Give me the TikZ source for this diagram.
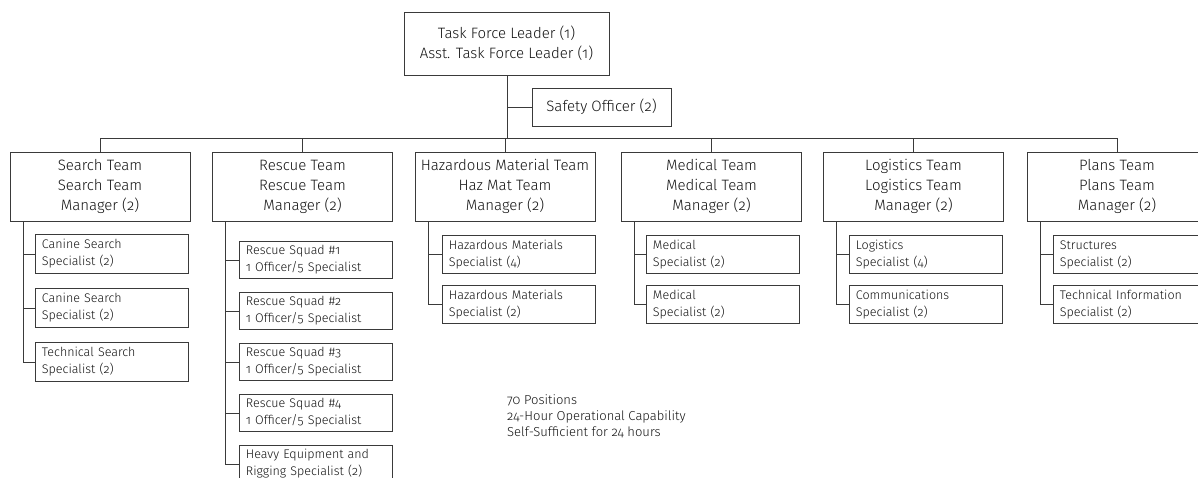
\documentclass[tikz,border=0pt]{standalone}
\usepackage{fontspec}
\setmainfont{Fira Sans Light}[Numbers=OldStyle]
\usepackage{tikz}
\usetikzlibrary{positioning}
\definecolor{linegray}{HTML}{3A3A3A}
\definecolor{txtgray}{HTML}{141414}
\newcommand{\teamfont}{\fontsize{15}{20}\selectfont}
\newcommand{\specfont}{\fontsize{12.5}{17}\selectfont}
\newcommand{\notefont}{\fontsize{13}{16}\selectfont}
\tikzset{
    boxnode/.style = {draw=linegray, fill=white, line width=0.9pt, inner sep=0pt, text=txtgray},
    lead/.style = {boxnode, minimum width=205pt, minimum height=63pt, align=center, font=\teamfont},
    safety/.style = {boxnode, minimum width=139pt, minimum height=38pt, align=center, font=\teamfont},
    team/.style = {boxnode, minimum width=180pt, minimum height=69pt, align=center, font=\teamfont},
    spec/.style = {boxnode, anchor=north west, minimum height=38pt, text width=140pt, inner xsep=6.5pt, align=left, font=\specfont},
    link/.style = {draw=linegray, line width=0.9pt}
}
\begin{document}
\begin{tikzpicture}[x=1pt, y=-1pt]
\useasboundingbox (0,0) rectangle (1198,478);
\clip (0,0) rectangle (1198,478);
% top of the chart
\node [lead] (leader) at (506.5,43.5) {Task Force Leader (1)\\Asst. Task Force Leader (1)};
\node [safety] (safety) at (601.5,107) {Safety Officer (2)};
\coordinate (bus) at (507,138);
\draw [link] (leader.south -| bus) -- (bus);
\draw [link] (safety.west) -- (safety.west -| bus);
% teams
\foreach \name/\x/\txt in {search/100/{Search Team\\Search Team\\Manager (2)},
                           rescue/302.5/{Rescue Team\\Rescue Team\\Manager (2)},
                           hazmat/505/{Hazardous Material Team\\Haz Mat Team\\Manager (2)},
                           medical/711.5/{Medical Team\\Medical Team\\Manager (2)},
                           logistics/913.5/{Logistics Team\\Logistics Team\\Manager (2)},
                           plans/1117/{Plans Team\\Plans Team\\Manager (2)}}{
    \node [team] (\name) at (\x,186.5) {\txt};
    \draw [link] (\name.north) -- (\name.north |- bus);
    \coordinate (\name-trunk) at ([xshift=13.5pt]\name.south west);
}
\draw [link] (search.north |- bus) -- (plans.north |- bus);
% search team
\foreach \i/\txt in {1/{Canine Search\\Specialist (2)}, 2/{Canine Search\\Specialist (2)},
                     3/{Technical Search\\Specialist (2)}}{
    \node [spec, minimum height=39pt] (search-\i) at (35,{234+(\i-1)*54}) {\txt};
    \draw [link] (search-trunk) |- (search-\i.west);
}
% rescue team
\foreach \i/\txt in {1/{Rescue Squad \#1\\1 Officer/5 Specialist}, 2/{Rescue Squad \#2\\1 Officer/5 Specialist},
                     3/{Rescue Squad \#3\\1 Officer/5 Specialist}, 4/{Rescue Squad \#4\\1 Officer/5 Specialist},
                     5/{Heavy Equipment and\\Rigging Specialist (2)}}{
    \node [spec, minimum height=37pt] (rescue-\i) at (239,{241+(\i-1)*51}) {\txt};
    \draw [link] (rescue-trunk) |- (rescue-\i.west);
}
% remaining teams, two specialists each
\foreach \name/\x/\one/\two in {hazmat/442/{Hazardous Materials\\Specialist (4)}/{Hazardous Materials\\Specialist (2)},
                                medical/646/{Medical\\Specialist (2)}/{Medical\\Specialist (2)},
                                logistics/849/{Logistics\\Specialist (4)}/{Communications\\Specialist (2)},
                                plans/1053/{Structures\\Specialist (2)}/{Technical Information\\Specialist (2)}}{
    \node [spec] (\name-1) at (\x,235) {\one};
    \node [spec] (\name-2) at (\x,285) {\two};
    \draw [link] (\name-trunk) |- (\name-1.west);
    \draw [link] (\name-trunk) |- (\name-2.west);
}
% notes
\node [anchor=north west, align=left, inner sep=0pt, font=\notefont, text=txtgray] (notes) at (507,395)
    {70 Positions\\24-Hour Operational Capability\\Self-Sufficient for 24 hours};
\end{tikzpicture}
\end{document}
